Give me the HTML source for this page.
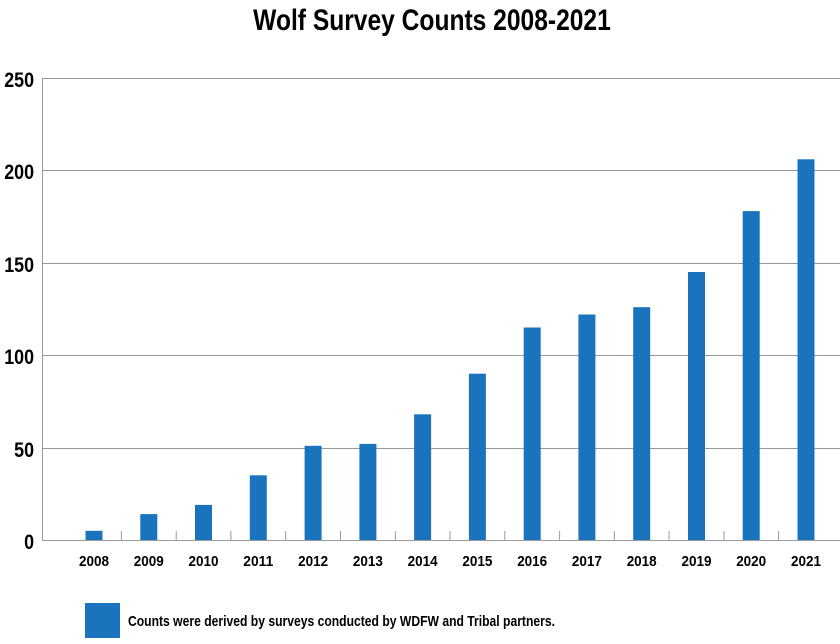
<!DOCTYPE html>
<html><head><style>
body{margin:0;background:#fff;width:840px;height:639px;overflow:hidden}
svg text{font-family:"Liberation Sans",sans-serif;font-weight:bold;fill:#000}
</style></head><body>
<svg width="840" height="639" xmlns="http://www.w3.org/2000/svg">
<text x="432" y="30" font-size="30" text-anchor="middle" transform="translate(432,0) scale(0.82,1) translate(-432,0)">Wolf Survey Counts 2008-2021</text>
<g stroke="#999" stroke-width="1">
<line x1="42" y1="78.5" x2="840" y2="78.5"/>
<line x1="42" y1="170.5" x2="840" y2="170.5"/>
<line x1="42" y1="263.5" x2="840" y2="263.5"/>
<line x1="42" y1="355.5" x2="840" y2="355.5"/>
<line x1="42" y1="448.5" x2="840" y2="448.5"/>
<line x1="42.5" y1="78" x2="42.5" y2="541"/>
<line x1="42" y1="540.5" x2="840" y2="540.5"/>
<line x1="121.4" y1="531" x2="121.4" y2="540"/>
<line x1="176.2" y1="531" x2="176.2" y2="540"/>
<line x1="230.9" y1="531" x2="230.9" y2="540"/>
<line x1="285.7" y1="531" x2="285.7" y2="540"/>
<line x1="340.5" y1="531" x2="340.5" y2="540"/>
<line x1="395.3" y1="531" x2="395.3" y2="540"/>
<line x1="450" y1="531" x2="450" y2="540"/>
<line x1="504.8" y1="531" x2="504.8" y2="540"/>
<line x1="559.6" y1="531" x2="559.6" y2="540"/>
<line x1="614.3" y1="531" x2="614.3" y2="540"/>
<line x1="669.1" y1="531" x2="669.1" y2="540"/>
<line x1="723.9" y1="531" x2="723.9" y2="540"/>
<line x1="778.6" y1="531" x2="778.6" y2="540"/>
</g>
<g font-size="21" text-anchor="end">
<text x="34" y="87" transform="scale(0.85,1) translate(6,0)">250</text>
<text x="34" y="179" transform="scale(0.85,1) translate(6,0)">200</text>
<text x="34" y="272" transform="scale(0.85,1) translate(6,0)">150</text>
<text x="34" y="364" transform="scale(0.85,1) translate(6,0)">100</text>
<text x="34" y="457" transform="scale(0.85,1) translate(6,0)">50</text>
<text x="34" y="549" transform="scale(0.85,1) translate(6,0)">0</text>
</g>
<g fill="#1a74bd">
<rect x="85.5" y="530.8" width="17" height="9.2"/>
<rect x="140.3" y="514.1" width="17" height="25.9"/>
<rect x="195" y="504.9" width="17" height="35.1"/>
<rect x="249.8" y="475.3" width="17" height="64.7"/>
<rect x="304.6" y="445.8" width="17" height="94.2"/>
<rect x="359.4" y="443.9" width="17" height="96.1"/>
<rect x="414.1" y="414.3" width="17" height="125.7"/>
<rect x="468.9" y="373.7" width="17" height="166.3"/>
<rect x="523.7" y="327.5" width="17" height="212.5"/>
<rect x="578.4" y="314.5" width="17" height="225.5"/>
<rect x="633.2" y="307.2" width="17" height="232.8"/>
<rect x="688" y="272" width="17" height="268"/>
<rect x="742.7" y="211.1" width="17" height="328.9"/>
<rect x="797.5" y="159.3" width="17" height="380.7"/>
</g>
<g font-size="15">
<text x="79" y="566" textLength="30" lengthAdjust="spacingAndGlyphs">2008</text>
<text x="133.8" y="566" textLength="30" lengthAdjust="spacingAndGlyphs">2009</text>
<text x="188.5" y="566" textLength="30" lengthAdjust="spacingAndGlyphs">2010</text>
<text x="243.3" y="566" textLength="30" lengthAdjust="spacingAndGlyphs">2011</text>
<text x="298.1" y="566" textLength="30" lengthAdjust="spacingAndGlyphs">2012</text>
<text x="352.9" y="566" textLength="30" lengthAdjust="spacingAndGlyphs">2013</text>
<text x="407.6" y="566" textLength="30" lengthAdjust="spacingAndGlyphs">2014</text>
<text x="462.4" y="566" textLength="30" lengthAdjust="spacingAndGlyphs">2015</text>
<text x="517.2" y="566" textLength="30" lengthAdjust="spacingAndGlyphs">2016</text>
<text x="571.9" y="566" textLength="30" lengthAdjust="spacingAndGlyphs">2017</text>
<text x="626.7" y="566" textLength="30" lengthAdjust="spacingAndGlyphs">2018</text>
<text x="681.5" y="566" textLength="30" lengthAdjust="spacingAndGlyphs">2019</text>
<text x="736.2" y="566" textLength="30" lengthAdjust="spacingAndGlyphs">2020</text>
<text x="791" y="566" textLength="30" lengthAdjust="spacingAndGlyphs">2021</text>
</g>
<rect x="85" y="603" width="35" height="35" fill="#1a74bd"/>
<text x="128" y="626" font-size="15" textLength="427" lengthAdjust="spacingAndGlyphs">Counts were derived by surveys conducted by WDFW and Tribal partners.</text>
</svg>
</body></html>
